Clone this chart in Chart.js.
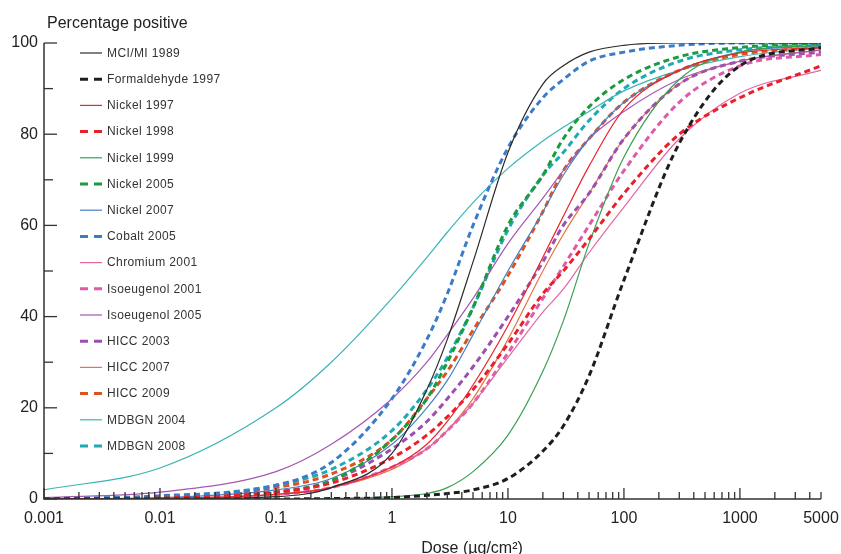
<!DOCTYPE html>
<html>
<head>
<meta charset="utf-8">
<script src="https://cdn.jsdelivr.net/npm/chart.js@4"></script>
<style>
  html, body { margin: 0; padding: 0; background: #fff; }
  #wrap { width: 841px; height: 554px; }
</style>
</head>
<body>
<div id="wrap"><canvas id="doseChart" width="841" height="554"></canvas></div>
<script>
// Doses (µg/cm²)
const doses = [0.001, 0.01, 0.1, 0.3, 1, 2, 3, 5, 10, 20, 30, 50, 100, 300, 1000, 5000];

// Percentage positive, one array per study
const mciMi1989        = [0, 0, 0.5, 2.5, 10, 24, 35, 52, 76, 91, 95, 98, 99.5, 100, 100, 100];
const formaldehyde1997 = [0, 0, 0, 0.1, 0.3, 0.8, 1.2, 2, 4.5, 10.5, 16, 27, 48, 78, 95, 99];
const nickel1997       = [0, 0.1, 1, 2.5, 7, 12, 17, 25, 38, 53, 62, 73, 85.5, 94, 97.8, 99];
const nickel1998       = [0, 0.2, 1.5, 3.5, 9, 14, 18, 24, 34, 45, 50, 57, 67, 80, 88, 95];
const nickel1999       = [0, 0, 0, 0.1, 0.5, 1.2, 2.5, 6, 14, 28, 39, 56, 75, 92, 98, 99.5];
const nickel2005       = [0, 0.2, 1.5, 4, 13, 22, 30, 42, 60, 71, 79, 86, 92, 97, 99, 100];
const nickel2007       = [0, 0.3, 2, 4.5, 12, 20, 26, 36, 50, 63, 71, 79, 87, 94, 98, 99.5];
const cobalt2005       = [0, 0.7, 3, 8, 22, 35, 45, 60, 77, 88, 92, 96, 98, 99.5, 100, 100];
const chromium2001     = [0, 0.1, 1, 2.5, 7, 11, 15, 21, 31, 41, 46, 54, 64, 79, 89, 94];
const isoeugenol2001   = [0, 0.1, 1, 2.5, 7, 11, 15, 21, 32, 44, 51, 60, 72, 87, 95, 97.5];
const isoeugenol2005   = [0.3, 1.5, 6, 12, 22, 30, 36, 44, 56, 66, 72, 79, 85, 92, 96, 98.5];
const hicc2003         = [0, 0.2, 1.5, 4, 11, 17, 22, 29, 40, 52, 60, 67, 79, 91, 96, 98];
const hicc2007         = [0, 0.1, 1, 2.5, 6.5, 11, 15, 22, 35, 50, 58, 67, 79, 91, 96, 98.5];
const hicc2009         = [0, 0.3, 2.5, 5.5, 13, 22, 28, 37, 49, 63, 72, 79, 87, 94, 97.5, 99];
const mdbgn2004        = [2, 6.8, 20, 30, 44, 53, 58.5, 65, 72.5, 78.5, 81.5, 85, 89.5, 94, 97, 99];
const mdbgn2008        = [0.1, 0.5, 3, 6.5, 15, 24, 31, 42, 59, 71, 76, 83, 90, 96, 98.5, 99.5];

// Axis ticks
const xTickValues = [0.001, 0.01, 0.1, 1, 10, 100, 1000, 5000];
const xTickLabels = ['0.001', '0.01', '0.1', '1', '10', '100', '1000', '5000'];
const yTickValues = [0, 20, 40, 60, 80, 100];

const FONT = '"Liberation Sans", Arial, Helvetica, sans-serif';

function series(label, values, color, dashed) {
    return {
        label: label,
        data: doses.map((d, i) => ({ x: d, y: values[i] })),
        borderColor: color,
        backgroundColor: color,
        borderWidth: dashed ? 3 : 1.2,
        borderDash: dashed ? [6, 4] : [],
        pointRadius: 0,
        cubicInterpolationMode: 'monotone',
        fill: false
    };
}

const datasets = [
    series('MCI/MI 1989', mciMi1989, '#2a2a2a', false),
    series('Formaldehyde 1997', formaldehyde1997, '#1e1e1e', true),
    series('Nickel 1997', nickel1997, '#e8262c', false),
    series('Nickel 1998', nickel1998, '#e8202a', true),
    series('Nickel 1999', nickel1999, '#3aa050', false),
    series('Nickel 2005', nickel2005, '#1c9a3e', true),
    series('Nickel 2007', nickel2007, '#4680c4', false),
    series('Cobalt 2005', cobalt2005, '#3a7cc8', true),
    series('Chromium 2001', chromium2001, '#e466a6', false),
    series('Isoeugenol 2001', isoeugenol2001, '#e05aa8', true),
    series('Isoeugenol 2005', isoeugenol2005, '#a458b4', false),
    series('HICC 2003', hicc2003, '#9c4fae', true),
    series('HICC 2007', hicc2007, '#e4763e', false),
    series('HICC 2009', hicc2009, '#dc5220', true),
    series('MDBGN 2004', mdbgn2004, '#3ab4b4', false),
    series('MDBGN 2008', mdbgn2008, '#1eaab4', true)
];

// Draws axis lines, inward ticks, x labels, titles and the legend
const decorations = {
    id: 'decorations',
    afterDatasetsDraw(chart) {
        const c = chart.ctx;
        const area = chart.chartArea;
        const xs = chart.scales.x;
        const ys = chart.scales.y;
        c.save();
        c.strokeStyle = '#333';
        c.lineWidth = 1.5;
        c.setLineDash([]);

        // axis lines
        c.beginPath();
        c.moveTo(area.left, area.top);
        c.lineTo(area.left, area.bottom);
        c.lineTo(xs.getPixelForValue(5000), area.bottom);
        c.stroke();

        // y ticks, major and minor
        c.lineWidth = 1.3;
        for (let v = 0; v <= 100; v += 10) {
            const y = ys.getPixelForValue(v);
            const len = v % 20 === 0 ? 13 : 9;
            c.beginPath();
            c.moveTo(area.left, y);
            c.lineTo(area.left + len, y);
            c.stroke();
        }

        // x ticks on the log axis
        for (let e = -3; e <= 3; e++) {
            for (let m = 1; m <= 9; m++) {
                const v = m * Math.pow(10, e);
                if (v > 5000 + 1e-9) continue;
                const x = xs.getPixelForValue(v);
                const len = m === 1 ? 11 : 7;
                c.beginPath();
                c.moveTo(x, area.bottom);
                c.lineTo(x, area.bottom - len);
                c.stroke();
            }
        }

        // x tick labels
        c.fillStyle = '#222';
        c.font = '16px ' + FONT;
        c.textAlign = 'center';
        c.textBaseline = 'middle';
        xTickValues.forEach((v, i) => {
            c.fillText(xTickLabels[i], xs.getPixelForValue(v), 519);
        });

        // titles
        c.textBaseline = 'alphabetic';
        c.textAlign = 'left';
        c.fillText('Percentage positive', 47, 28);
        c.textAlign = 'center';
        c.fillText('Dose (\u00b5g/cm\u00b2)', 472, 553);

        // legend
        c.font = '12px ' + FONT;
        c.letterSpacing = '0.4px';
        c.textAlign = 'left';
        c.textBaseline = 'middle';
        chart.data.datasets.forEach((ds, i) => {
            const y = 53 + i * 26.2;
            c.strokeStyle = ds.borderColor;
            c.lineWidth = ds.borderWidth;
            c.setLineDash(ds.borderDash.length ? [8, 6] : []);
            c.beginPath();
            c.moveTo(80, y);
            c.lineTo(102, y);
            c.stroke();
            c.fillStyle = '#333';
            c.fillText(ds.label, 107, y + 0.5);
        });
        c.restore();
    }
};

const ctx = document.getElementById('doseChart').getContext('2d');

const doseChart = new Chart(ctx, {
    type: 'line',
    data: { datasets: datasets },
    options: {
        responsive: false,
        animation: false,
        layout: { padding: { top: 43, right: 20, left: 0, bottom: 0 } },
        plugins: {
            legend: { display: false },
            tooltip: { enabled: false }
        },
        scales: {
            x: {
                type: 'logarithmic',
                min: 0.001,
                max: 5000,
                grid: { display: false, drawTicks: false },
                border: { display: false },
                afterBuildTicks: (scale) => {
                    scale.ticks = xTickValues.map(v => ({ value: v }));
                },
                afterFit: (scale) => { scale.height = 55; },
                ticks: { display: false }
            },
            y: {
                min: 0,
                max: 100,
                grid: { display: false, drawTicks: false },
                border: { display: false },
                afterBuildTicks: (scale) => {
                    scale.ticks = yTickValues.map(v => ({ value: v }));
                },
                afterFit: (scale) => { scale.width = 44; },
                ticks: {
                    padding: 6,
                    color: '#222',
                    font: { size: 16, family: FONT }
                }
            }
        }
    },
    plugins: [decorations]
});
</script>
</body>
</html>
